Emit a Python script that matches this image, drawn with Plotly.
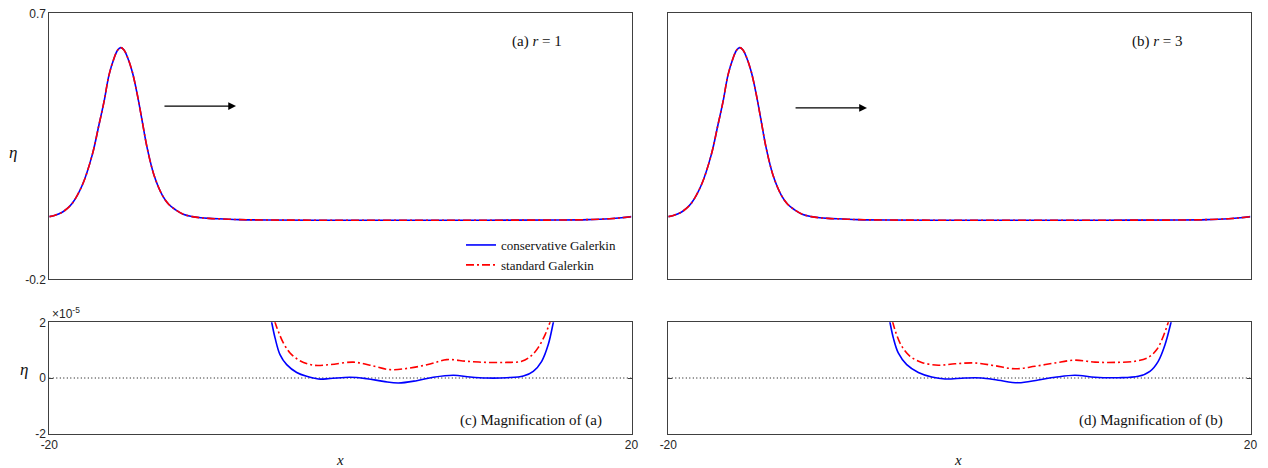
import plotly.graph_objects as go

# ---------------- data ----------------
# top panels: full solution eta(x)
x_top = [-20.0, -19.6, -19.11, -18.8, -18.42, -17.73, -17.05, -16.59, -16.24, -15.90, -15.55,
         -15.30, -15.09, -14.88, -14.64, -14.30, -13.95, -13.61, -13.27, -12.81, -12.24,
         -11.8, -11.32, -10.8, -10.18, -9.6, -9.03, -8.0, -7.0, -5.0, 0.0, 5.0, 10.0, 15.0,
         17.0, 18.5, 19.3, 20.0]
eta_cons_r1 = [0.012, 0.017, 0.027, 0.038, 0.057, 0.119, 0.221, 0.322, 0.401, 0.491, 0.548,
               0.576, 0.584, 0.577, 0.553, 0.502, 0.424, 0.333, 0.243, 0.153, 0.085,
               0.054, 0.035, 0.020, 0.012, 0.008, 0.006, 0.004, 0.002, 0.0005, 0.0, 0.0, 0.0,
               0.0005, 0.002, 0.005, 0.008, 0.012]
eta_std_r1 = list(eta_cons_r1)
eta_cons_r3 = list(eta_cons_r1)
eta_std_r3 = list(eta_cons_r1)

# bottom panels: magnification (units of 1e-5)
xc_cons = [-5.0, -4.72, -4.49, -4.15, -3.69, -3.00, -2.32, -1.52, -0.71, 0.66, 1.81, 2.95,
           3.98, 5.24, 6.38, 7.76, 8.91, 10.05, 11.43, 12.57, 13.25, 13.83, 14.28, 14.63, 14.9]
yc_cons = [2.8, 2.0, 1.44, 0.84, 0.48, 0.20, 0.06, -0.036, -0.02, 0.025, -0.025, -0.12,
           -0.18, -0.097, 0.025, 0.097, 0.036, 0.0, 0.01, 0.07, 0.24, 0.6, 1.2, 2.0, 2.7]
xc_std = [-4.75, -4.49, -4.27, -3.92, -3.46, -2.78, -1.86, -0.71, 0.89, 2.03, 3.41, 4.78,
          6.16, 7.30, 8.68, 10.05, 11.43, 12.46, 13.14, 13.60, 14.06, 14.40, 14.7]
yc_std = [2.6, 2.0, 1.68, 1.26, 0.90, 0.62, 0.46, 0.48, 0.57, 0.46, 0.30, 0.36,
          0.50, 0.66, 0.60, 0.56, 0.56, 0.60, 0.81, 1.10, 1.55, 2.0, 2.5]
xd_cons = [-5.05, -4.77, -4.54, -4.20, -3.62, -2.82, -1.90, -0.99, 0.38, 1.53, 2.67, 4.05,
           5.42, 6.57, 7.94, 9.32, 10.92, 12.29, 13.09, 13.66, 14.13, 14.54, 14.8]
yd_cons = [2.8, 2.0, 1.44, 0.90, 0.48, 0.20, 0.036, -0.036, 0.0, 0.0, -0.08, -0.17,
           -0.07, 0.025, 0.10, 0.025, 0.01, 0.06, 0.24, 0.60, 1.20, 2.0, 2.6]
xd_std = [-4.85, -4.58, -4.31, -3.96, -3.39, -2.59, -1.45, -0.30, 1.07, 2.45, 3.82, 5.19,
          6.57, 7.94, 9.32, 10.69, 12.06, 12.98, 13.56, 14.01, 14.35, 14.6]
yd_std = [2.6, 2.0, 1.55, 1.14, 0.78, 0.56, 0.46, 0.51, 0.54, 0.44, 0.33, 0.42,
          0.54, 0.64, 0.57, 0.56, 0.60, 0.74, 1.02, 1.50, 2.0, 2.4]

x_ticks = [-20, 20]
top_yticks = [-0.2, 0.7]
top_yticktext = ["-0.2", "0.7"]
mag_yticks = [-2, 0, 2]
mag_yticktext = ["-2", "0", "2"]
arrow_r1 = [(-12.19, 0.386), (-7.17, 0.386)]
arrow_r3 = [(-11.36, 0.38), (-6.35, 0.38)]

names = ["conservative Galerkin", "standard Galerkin"]
BLUE = "#0000FF"
RED = "#FF0000"
DASH = "8px,3px,2px,3px"
SERIF = "Liberation Serif"
SANS = "Liberation Sans"

fig = go.Figure()

def add_pair(xc, yc, xs, ys, xa, ya, legend):
    fig.add_trace(go.Scatter(x=xc, y=yc, mode="lines", name=names[0], showlegend=legend,
                             line=dict(color=BLUE, width=1.6, shape="spline", smoothing=1.0),
                             xaxis=xa, yaxis=ya))
    fig.add_trace(go.Scatter(x=xs, y=ys, mode="lines", name=names[1], showlegend=legend,
                             line=dict(color=RED, width=1.6, dash=DASH, shape="spline", smoothing=1.0),
                             xaxis=xa, yaxis=ya))

add_pair(x_top, eta_cons_r1, x_top, eta_std_r1, "x", "y", True)
add_pair(x_top, eta_cons_r3, x_top, eta_std_r3, "x2", "y2", False)
add_pair(xc_cons, yc_cons, xc_std, yc_std, "x3", "y3", False)
add_pair(xd_cons, yd_cons, xd_std, yd_std, "x4", "y4", False)

# dotted zero lines on magnified panels
for xr, yr in (("x3", "y3"), ("x4", "y4")):
    fig.add_shape(type="line", xref=xr, yref=yr, x0=-20, x1=20, y0=0, y1=0,
                  line=dict(color="black", width=1, dash="1px,2.5px"), layer="below")

W, H = 1268, 468
XL = [49.3 / W, 631.5 / W]
XR = [668.3 / W, 1250.5 / W]
YT = [1 - 279.3 / H, 1 - 13.3 / H]
YB = [1 - 433.7 / H, 1 - 322.3 / H]

axcommon = dict(showline=True, mirror="ticks", linecolor="#404040", linewidth=1,
                showgrid=False, zeroline=False, ticks="inside", ticklen=4, automargin=False,
                tickcolor="#404040", tickfont=dict(family=SANS, size=12, color="#262626"))

lay = dict(
    width=W, height=H, margin=dict(l=0, r=0, t=0, b=0, pad=0, autoexpand=False),
    plot_bgcolor="white", paper_bgcolor="white",
    xaxis=dict(domain=XL, range=[-20, 20], tickvals=x_ticks, showticklabels=False, anchor="y", **axcommon),
    yaxis=dict(domain=YT, range=[-0.2, 0.7], tickvals=top_yticks, ticktext=top_yticktext, anchor="x", **axcommon),
    xaxis2=dict(domain=XR, range=[-20, 20], tickvals=x_ticks, showticklabels=False, anchor="y2", **axcommon),
    yaxis2=dict(domain=YT, range=[-0.2, 0.7], tickvals=top_yticks, showticklabels=False, anchor="x2", **axcommon),
    xaxis3=dict(domain=XL, range=[-20, 20], tickvals=x_ticks, ticktext=["-20", "20"], anchor="y3", **axcommon),
    yaxis3=dict(domain=YB, range=[-2, 2], tickvals=mag_yticks, ticktext=mag_yticktext, anchor="x3", **axcommon),
    xaxis4=dict(domain=XR, range=[-20, 20], tickvals=x_ticks, ticktext=["-20", "20"], anchor="y4", **axcommon),
    yaxis4=dict(domain=YB, range=[-2, 2], tickvals=mag_yticks, showticklabels=False, anchor="x4", **axcommon),
    legend=dict(x=621 / W, xanchor="right", y=1 - 230 / H, yanchor="top",
                bgcolor="rgba(0,0,0,0)", font=dict(family=SERIF, size=13, color="#111"),
                tracegroupgap=0, itemwidth=30),
    showlegend=True,
)
fig.update_layout(**lay)

ann = []
def txt(x, y, t, size=15, family=SERIF, xanchor="center"):
    ann.append(dict(x=x / W, y=1 - y / H, xref="paper", yref="paper", text=t, showarrow=False,
                    xanchor=xanchor, yanchor="middle", font=dict(family=family, size=size, color="#111")))

txt(537, 41, "(a) <i>r</i> = 1")
txt(1157, 41, "(b) <i>r</i> = 3")
txt(531, 420, "(c) Magnification of (a)")
txt(1151, 420, "(d) Magnification of (b)")
txt(13, 153, "<i>η</i>", size=17)
txt(24, 369, "<i>η</i>", size=17)
txt(340, 460, "<i>x</i>", size=15)
txt(958, 460, "<i>x</i>", size=15)
ann.append(dict(x=50 / W, y=1 - 313 / H, xref="paper", yref="paper", text="×10<sup>-5</sup>",
                showarrow=False, xanchor="left", yanchor="middle",
                font=dict(family=SANS, size=12, color="#262626")))

for (s, e), xr, yr in ((arrow_r1, "x", "y"), (arrow_r3, "x2", "y2")):
    ann.append(dict(x=e[0], y=e[1], ax=s[0], ay=s[1], xref=xr, yref=yr, axref=xr, ayref=yr,
                    showarrow=True, arrowhead=2, arrowsize=1.3, arrowwidth=1.2,
                    arrowcolor="black", text=""))

fig.update_layout(annotations=ann)
fig.write_html("out.html", config={"displayModeBar": False},
               post_script="document.body.style.margin='0';document.body.style.overflow='hidden';")
